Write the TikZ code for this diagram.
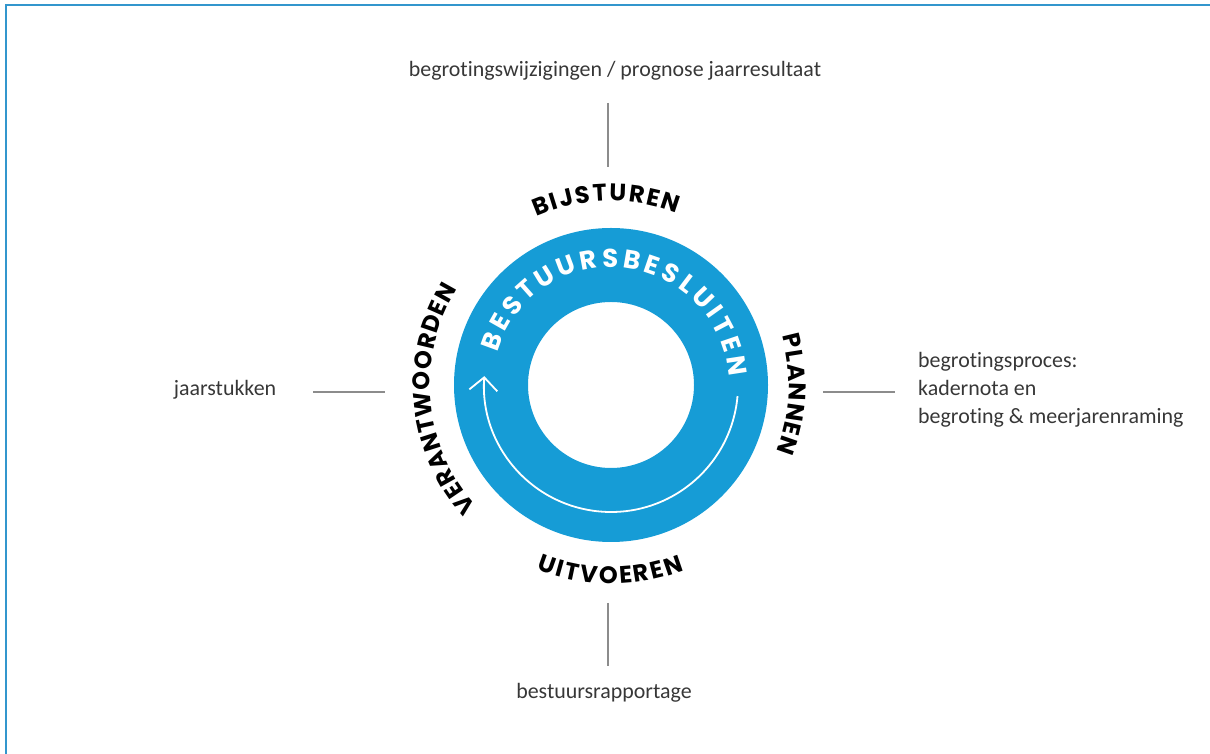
\documentclass[tikz,border=0pt]{standalone}
\usepackage{fontspec}
\setmainfont{Carlito}[Ligatures=CommonOff]
\newfontfamily\capsfont{Poppins}
\usetikzlibrary{decorations.text,arrows.meta}
\definecolor{ringblue}{RGB}{22,156,214}
\definecolor{frameblue}{RGB}{50,150,205}
\definecolor{labelgray}{RGB}{55,55,55}
\definecolor{linegray}{RGB}{140,140,140}
\begin{document}
\begin{tikzpicture}[x=1bp,y=1bp,
  lbl/.style={text=labelgray, font=\fontsize{22}{28}\selectfont, inner sep=0pt},
  leader/.style={draw=linegray, line width=1.1bp},
  captext/.style={decorate, decoration={text along path, text align={fit to path},
     text={|\capsfont\bfseries\fontsize{24}{24}\selectfont|#1}}},
  ringtext/.style={decorate, decoration={text along path, text align={fit to path},
     text={|\capsfont\bfseries\fontsize{26}{26}\selectfont\color{white}|#1}}},
]
\useasboundingbox (0,0) rectangle (1210,754);
\draw[frameblue, line width=2.5bp] (6,0) -- (6,749) -- (1210,749);
\coordinate (C) at (611,369);
\fill[ringblue, even odd rule] (C) circle[radius=157] (C) circle[radius=83];
\draw[white, line width=1.8bp, -{Straight Barb[length=13bp,width=28bp]}]
  ([shift={(-5:127)}]C) arc[start angle=-5, end angle=-184, radius=127];
\path[ringtext={BESTUURSBESLUITEN}] ([shift={(164:118)}]C) arc[start angle=164, end angle=4, radius=118];
\path[captext={BIJSTUREN}] ([shift={(114:184)}]C) arc[start angle=114, end angle=69, radius=184];
\path[captext={PLANNEN}] ([shift={(16:178)}]C) arc[start angle=16, end angle=-22, radius=178];
\path[captext={UITVOEREN}] ([shift={(248:199)}]C) arc[start angle=248, end angle=291.5, radius=199];
\path[captext={VERANTWOORDEN}] ([shift={(222:181)}]C) arc[start angle=222, end angle=148, radius=181];
\node[lbl, anchor=base] (toplbl) at (615,677) {begrotingswijzigingen / prognose jaarresultaat};
\node[lbl, anchor=base] (botlbl) at (604,55) {bestuursrapportage};
\node[lbl, anchor=base] (leftlbl) at (225,358) {jaarstukken};
\node[lbl, anchor=west, align=left] (rightlbl) at (918,364) {begrotingsproces:\\kadernota en\\begroting \& meerjarenraming};
\coordinate (topA) at (608,651); \coordinate (topB) at (608,587);
\coordinate (botA) at (608,151); \coordinate (botB) at (608,88);
\coordinate (leftA) at (313,362); \coordinate (leftB) at (385,362);
\coordinate (rightA) at (823,362); \coordinate (rightB) at (895,362);
\draw[leader] (topA) -- (topB);
\draw[leader] (botA) -- (botB);
\draw[leader] (leftA) -- (leftB);
\draw[leader] (rightA) -- (rightB);
\end{tikzpicture}
\end{document}
